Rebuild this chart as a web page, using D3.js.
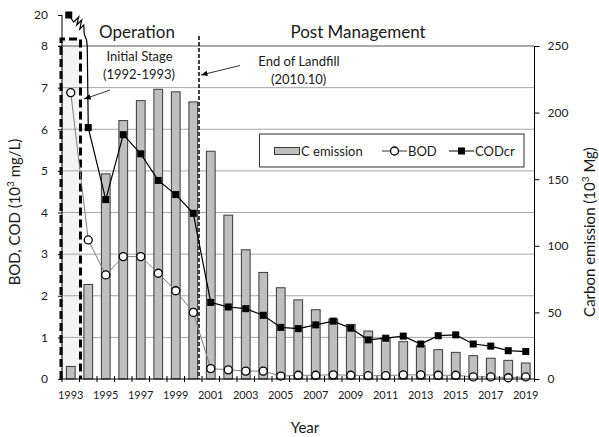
<!DOCTYPE html>
<html>
<head>
<meta charset="utf-8">
<script src="https://cdn.jsdelivr.net/npm/d3@7"></script>
<style>
  body { margin: 0; background: #fff; }
  text { font-family: Lato, "Open Sans", sans-serif; fill: #1a1a1a; }
</style>
</head>
<body>
<div id="chart"></div>
<script>
// data
var years = [1993, 1994, 1995, 1996, 1997, 1998, 1999, 2000, 2001, 2002, 2003, 2004, 2005, 2006,
             2007, 2008, 2009, 2010, 2011, 2012, 2013, 2014, 2015, 2016, 2017, 2018, 2019];
var cEmission = [9.4, 71, 154, 194, 209, 217.5, 215.6, 208, 171, 123, 97, 80, 68.5, 59.4,
                 52, 45, 41, 36, 31, 28, 25, 22, 20, 17.5, 15.6, 14, 12];   // 10^3 Mg
var bod = [6.88, 3.34, 2.50, 2.94, 2.94, 2.54, 2.12, 1.60, 0.25, 0.22, 0.19, 0.19, 0.07, 0.09,
           0.09, 0.10, 0.09, 0.08, 0.08, 0.10, 0.10, 0.09, 0.09, 0.05, 0.05, 0.03, 0.05];   // 10^3 mg/L
var codcr = [20, 6.04, 4.31, 5.87, 5.41, 4.77, 4.43, 3.98, 1.84, 1.73, 1.69, 1.53, 1.24, 1.21,
             1.30, 1.39, 1.22, 0.94, 0.98, 1.03, 0.84, 1.04, 1.06, 0.84, 0.79, 0.68, 0.66];
var leftTicks = [0, 1, 2, 3, 4, 5, 6, 7, 8, 20];
var rightTicks = [0, 50, 100, 150, 200, 250];
var yearLabels = [1993, 1995, 1997, 1999, 2001, 2003, 2005, 2007, 2009, 2011, 2013, 2015, 2017, 2019];

var W = 599, H = 437;
var left = 62, right = 534.5, bottom = 379, top8 = 46, top20 = 15;

var svg = d3.select('#chart').append('svg')
    .attr('width', W).attr('height', H);

var x = d3.scaleBand().domain(years).range([left, right]).padding(0);
var xc = function(yr) { return x(yr) + x.bandwidth() / 2; };
var step = x.step();

// broken left axis: 0-8 linear, 20 squeezed on top
var yL = d3.scaleLinear().domain([0, 8, 20]).range([bottom, top8, top20]);
var yR = d3.scaleLinear().domain([0, 250]).range([bottom, top8]);

// Initial stage shaded box
var bx0 = x(1993) - 1, bx1 = x(1993) + step + 1, by0 = top8 - 7;
svg.append('rect')
    .attr('x', bx0).attr('y', by0)
    .attr('width', bx1 - bx0).attr('height', bottom - by0)
    .attr('fill', '#f4f4f4');

// gridlines
svg.append('g').selectAll('line')
    .data(d3.range(1, 8))
    .enter().append('line')
    .attr('x1', left).attr('x2', right)
    .attr('y1', function(d) { return yL(d); })
    .attr('y2', function(d) { return yL(d); })
    .attr('stroke', '#a6a6a6').attr('stroke-width', 1);

svg.append('line')
    .attr('x1', left - 4).attr('x2', right)
    .attr('y1', yL(8)).attr('y2', yL(8))
    .attr('stroke', '#555').attr('stroke-width', 1.2);

// bars
var barW = x.bandwidth() * 0.5;
svg.append('g').selectAll('rect')
    .data(years)
    .enter().append('rect')
    .attr('x', function(d) { return xc(d) - barW / 2; })
    .attr('y', function(d, i) { return yR(cEmission[i]); })
    .attr('width', barW)
    .attr('height', function(d, i) { return bottom - yR(cEmission[i]); })
    .attr('fill', '#bfbfbf')
    .attr('stroke', '#3a3a3a')
    .attr('stroke-width', 1);

// dashed box edges
svg.append('path')
    .attr('d', 'M' + bx0 + ',' + bottom + 'V' + by0 + 'H' + bx1 + 'V' + bottom)
    .attr('fill', 'none').attr('stroke', '#000')
    .attr('stroke-width', 3).attr('stroke-dasharray', '8,4');

// end of landfill line
var endX = x(2001) - 3;
svg.append('line')
    .attr('x1', endX).attr('x2', endX)
    .attr('y1', top8 - 10).attr('y2', bottom)
    .attr('stroke', '#000').attr('stroke-width', 1.5)
    .attr('stroke-dasharray', '4,2');

// BOD line
var lineBod = d3.line()
    .x(function(d, i) { return xc(years[i]); })
    .y(function(d) { return yL(d); });
svg.append('path').datum(bod)
    .attr('d', lineBod)
    .attr('fill', 'none').attr('stroke', '#7f7f7f').attr('stroke-width', 1);

// CODcr line (from 1994 on) plus the break segment from 1993
var lineCod = d3.line()
    .x(function(d) { return xc(d.yr); })
    .y(function(d) { return yL(d.v); });
var codData = years.map(function(yr, i) { return {yr: yr, v: codcr[i]}; });
svg.append('path').datum(codData.slice(1))
    .attr('d', lineCod)
    .attr('fill', 'none').attr('stroke', '#000').attr('stroke-width', 1.2);

var x0 = xc(1993) - 2, y0 = yL(codcr[0]), x1 = xc(1994), y1 = yL(codcr[1]);
var brk = 'M' + x0 + ',' + y0 +
    'L' + (x0 + 5) + ',' + (y0 + 7) +
    'L' + (x0 + 10) + ',' + (y0 + 2) +
    'L' + (x0 + 8) + ',' + (y0 + 10) +
    'L' + (x0 + 13) + ',' + (y0 + 5) +
    'L' + (x0 + 11) + ',' + (y0 + 14) +
    'L' + (x0 + 15) + ',' + (y0 + 10) +
    'L' + (x1 - 4) + ',' + (top8 - 12) +
    'Q' + (x1 - 1) + ',' + (top8 - 6) + ' ' + (x1 - 1) + ',' + top8 +
    'L' + x1 + ',' + y1;
svg.append('path')
    .attr('d', brk)
    .attr('fill', 'none').attr('stroke', '#000').attr('stroke-width', 1.2);

// markers
svg.append('g').selectAll('rect')
    .data(codData)
    .enter().append('rect')
    .attr('x', function(d, i) { return (i === 0 ? xc(d.yr) - 2 : xc(d.yr)) - 3.5; })
    .attr('y', function(d) { return yL(d.v) - 3.5; })
    .attr('width', 7).attr('height', 7)
    .attr('fill', '#000');

svg.append('g').selectAll('circle')
    .data(bod)
    .enter().append('circle')
    .attr('cx', function(d, i) { return xc(years[i]); })
    .attr('cy', function(d) { return yL(d); })
    .attr('r', 4)
    .attr('fill', '#fff')
    .attr('stroke', i => '#000')
    .attr('stroke-width', 1.3);

// axes
var axL = svg.append('g').attr('transform', 'translate(' + left + ',0)')
    .call(d3.axisLeft(yL).tickValues(leftTicks).tickSize(4).tickPadding(10));
axL.select('.domain').attr('d', 'M0,' + top20 + 'V' + bottom);

var axR = svg.append('g').attr('transform', 'translate(' + right + ',0)')
    .call(d3.axisRight(yR).tickValues(rightTicks).tickSize(5).tickPadding(8));
axR.select('.domain').attr('d', 'M0,' + top8 + 'V' + bottom);

[axL, axR].forEach(function(a) {
  a.selectAll('text').style('font-size', '12px').attr('fill', '#1a1a1a');
  a.selectAll('line, path').attr('stroke', '#000');
});

// x axis
svg.append('line')
    .attr('x1', left).attr('x2', right)
    .attr('y1', bottom).attr('y2', bottom)
    .attr('stroke', '#000').attr('stroke-width', 1);
svg.append('g').selectAll('line')
    .data(years.concat([2020]))
    .enter().append('line')
    .attr('x1', function(d) { return d === 2020 ? right : x(d); })
    .attr('x2', function(d) { return d === 2020 ? right : x(d); })
    .attr('y1', bottom - 3).attr('y2', bottom + 3)
    .attr('stroke', '#000');
svg.append('g').selectAll('text')
    .data(yearLabels)
    .enter().append('text')
    .attr('x', function(d) { return xc(d); })
    .attr('y', bottom + 20)
    .attr('text-anchor', 'middle')
    .style('font-size', '11px')
    .text(function(d) { return d; });

// axis titles
svg.append('text')
    .attr('x', 305).attr('y', 433)
    .attr('text-anchor', 'middle')
    .style('font-size', '15px')
    .text('Year');

var tl = svg.append('text')
    .attr('transform', 'translate(20,212) rotate(-90)')
    .attr('text-anchor', 'middle')
    .style('font-size', '15px');
tl.append('tspan').text('BOD, COD (10');
tl.append('tspan').attr('dy', -6).style('font-size', '10px').text('3');
tl.append('tspan').attr('dy', 6).text(' mg/L)');

var tr = svg.append('text')
    .attr('transform', 'translate(595,232) rotate(-90)')
    .attr('text-anchor', 'middle')
    .style('font-size', '15px');
tr.append('tspan').text('Carbon emission (10');
tr.append('tspan').attr('dy', -6).style('font-size', '10px').text('3');
tr.append('tspan').attr('dy', 6).text(' Mg)');

// annotations
function label(t, cx, y, size) {
  svg.append('text').attr('x', cx).attr('y', y)
      .attr('text-anchor', 'middle').style('font-size', size + 'px').text(t);
}
label('Operation', 137, 38, 17);
label('Post Management', 358, 38, 17);
label('Initial Stage', 139.5, 61, 13);
label('(1992-1993)', 139, 79, 13);
label('End of Landfill', 299, 65.5, 13);
label('(2010.10)', 298.7, 84, 13);

function arrow(xa, ya, xb, yb) {
  svg.append('line').attr('x1', xa).attr('y1', ya).attr('x2', xb).attr('y2', yb)
      .attr('stroke', '#333').attr('stroke-width', 1);
  var ang = Math.atan2(yb - ya, xb - xa), L = 7, s = 0.4;
  svg.append('path')
      .attr('d', 'M' + xb + ',' + yb +
        'L' + (xb - L * Math.cos(ang - s)) + ',' + (yb - L * Math.sin(ang - s)) +
        'L' + (xb - L * Math.cos(ang + s)) + ',' + (yb - L * Math.sin(ang + s)) + 'Z')
      .attr('fill', '#000');
}
arrow(110, 90, xc(1994) - 4, 99);
arrow(240, 65.5, endX + 2, 75);

// legend
var lg = svg.append('g');
lg.append('rect').attr('x', 259.5).attr('y', 134).attr('width', 264.5).attr('height', 33)
    .attr('fill', '#fff').attr('stroke', '#333').attr('stroke-width', 1);
lg.append('rect').attr('x', 274.5).attr('y', 147.5).attr('width', 25).attr('height', 7)
    .attr('fill', '#bfbfbf').attr('stroke', '#3a3a3a');
lg.append('text').attr('x', 301).attr('y', 155.5).style('font-size', '13px').text('C emission');
lg.append('line').attr('x1', 382).attr('x2', 407).attr('y1', 151).attr('y2', 151)
    .attr('stroke', '#333');
lg.append('circle').attr('cx', 394.5).attr('cy', 151).attr('r', 4)
    .attr('fill', '#fff').attr('stroke', '#000').attr('stroke-width', 1.3);
lg.append('text').attr('x', 408).attr('y', 155.5).style('font-size', '13px').text('BOD');
lg.append('line').attr('x1', 449).attr('x2', 474).attr('y1', 151).attr('y2', 151)
    .attr('stroke', '#000');
lg.append('rect').attr('x', 458).attr('y', 147.5).attr('width', 7).attr('height', 7)
    .attr('fill', '#000');
lg.append('text').attr('x', 475).attr('y', 155.5).style('font-size', '13px').text('CODcr');
</script>
</body>
</html>
